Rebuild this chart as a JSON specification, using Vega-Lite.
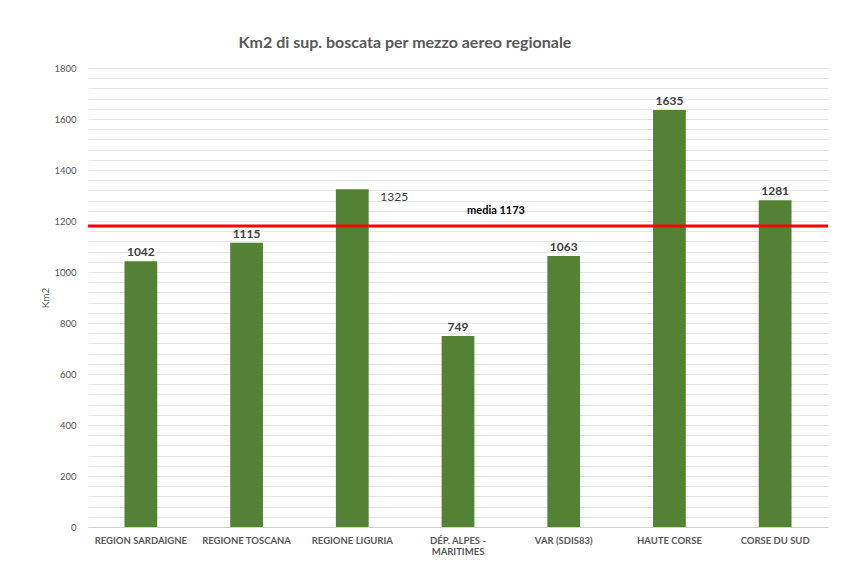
{
  "$schema": "https://vega.github.io/schema/vega-lite/v6.json",
  "width": 740,
  "height": 459,
  "autosize": "none",
  "padding": {"left": 88, "top": 68, "right": 19, "bottom": 35},
  "background": "white",
  "title": {
    "text": "Km2 di sup. boscata per mezzo aereo regionale",
    "font": "Lato",
    "fontSize": 16,
    "fontWeight": "bold",
    "color": "#595959",
    "anchor": "middle",
    "dx": -53,
    "offset": 12
  },
  "config": {
    "view": {"stroke": null},
    "font": "Lato"
  },
  "data": {
    "values": [
      {"area": "REGION SARDAIGNE", "km2": 1042},
      {"area": "REGIONE TOSCANA", "km2": 1115},
      {"area": "REGIONE LIGURIA", "km2": 1325},
      {"area": "DÉP. ALPES - MARITIMES", "km2": 749},
      {"area": "VAR (SDIS83)", "km2": 1063},
      {"area": "HAUTE CORSE", "km2": 1635},
      {"area": "CORSE DU SUD", "km2": 1281}
    ]
  },
  "encoding": {
    "x": {
      "field": "area",
      "type": "nominal",
      "sort": null,
      "scale": {"paddingInner": 0.69, "paddingOuter": 0.345},
      "axis": {
        "title": null,
        "labelAngle": 0,
        "labelFont": "Lato",
        "labelFontSize": 9.5,
        "labelFontWeight": "bold",
        "labelColor": "#595959",
        "labelPadding": 8,
        "ticks": false,
        "domainColor": "#d0d0d0",
        "labelExpr": "datum.label == 'DÉP. ALPES - MARITIMES' ? ['DÉP. ALPES -', 'MARITIMES'] : datum.label"
      }
    }
  },
  "layer": [
    {
      "mark": {"type": "bar", "color": "#548235"},
      "encoding": {
        "y": {
          "field": "km2",
          "type": "quantitative",
          "scale": {"domain": [0, 1800], "nice": false},
          "axis": {
            "title": "Km2",
            "titleFont": "Lato",
            "titleFontSize": 10,
            "titleFontWeight": "normal",
            "titleColor": "#595959",
            "titlePadding": 3,
            "values": [0,40,80,120,160,200,240,280,320,360,400,440,480,520,560,600,640,680,720,760,800,840,880,920,960,1000,1040,1080,1120,1160,1200,1240,1280,1320,1360,1400,1440,1480,1520,1560,1600,1640,1680,1720,1760,1800],
            "tickCount": 200,
            "labelExpr": "datum.value % 200 == 0 ? datum.label : ''",
            "labelOverlap": false,
            "labelBound": false,
            "format": "d",
            "labelFont": "Lato",
            "labelFontSize": 9.5,
            "labelColor": "#595959",
            "labelPadding": 12,
            "ticks": false,
            "domain": false,
            "gridColor": "#e6e6e6",
            "gridWidth": 1
          }
        }
      }
    },
    {
      "transform": [{"filter": "datum.area != 'REGIONE LIGURIA'"}],
      "mark": {"type": "text", "dy": -9, "fontSize": 12, "fontWeight": "bold", "color": "#404040", "font": "Lato"},
      "encoding": {
        "y": {"field": "km2", "type": "quantitative"},
        "text": {"field": "km2", "type": "quantitative"}
      }
    },
    {
      "transform": [{"filter": "datum.area == 'REGIONE LIGURIA'"}],
      "mark": {"type": "text", "align": "left", "dx": 28, "dy": 8, "fontSize": 12, "color": "#404040", "font": "Lato"},
      "encoding": {
        "y": {"field": "km2", "type": "quantitative"},
        "text": {"field": "km2", "type": "quantitative"}
      }
    },
    {
      "data": {"values": [{"media": 1180, "label": "media 1173", "pos": "DÉP. ALPES - MARITIMES"}]},
      "layer": [
        {
          "mark": {"type": "rule", "color": "#ff0000", "strokeWidth": 3},
          "encoding": {"x": null, "y": {"field": "media", "type": "quantitative"}}
        },
        {
          "mark": {"type": "text", "dx": 38, "dy": -15, "fontSize": 11, "fontWeight": "bold", "color": "#000000", "font": "Lato"},
          "encoding": {
            "x": {"field": "pos", "type": "nominal"},
            "y": {"field": "media", "type": "quantitative"},
            "text": {"field": "label"}
          }
        }
      ]
    }
  ]
}
